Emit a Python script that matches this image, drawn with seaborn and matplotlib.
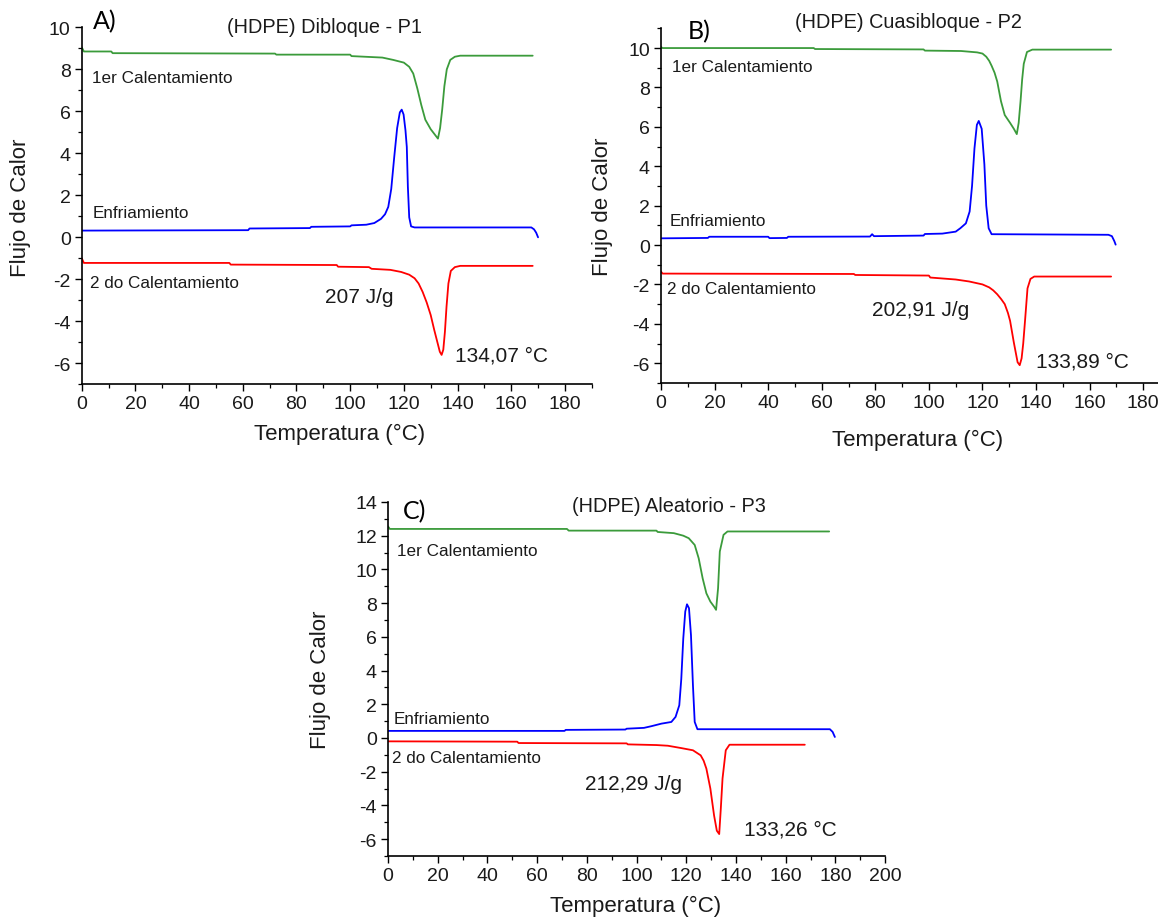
import numpy as np
import pandas as pd
import seaborn as sns
import matplotlib
matplotlib.use("Agg")
import matplotlib.pyplot as plt
from matplotlib.ticker import MultipleLocator

# ---------------- DSC thermograms: heat flow vs temperature ----------------
# Panel A: (HDPE) Dibloque - P1
a_heat1_t = [0, 0.8, 11, 11.5, 72, 72.5, 100, 100.5, 112, 116, 120, 122, 123.5, 125, 126.5,
             128, 130, 131.5, 132.7, 133.5, 134.3, 135.1, 136, 137.3, 139, 141, 168]
a_heat1_q = [9.05, 8.85, 8.85, 8.77, 8.75, 8.7, 8.7, 8.63, 8.56, 8.45, 8.32, 8.12, 7.8, 7.1, 6.3,
             5.6, 5.15, 4.9, 4.7, 5.2, 6.1, 7.2, 8.0, 8.45, 8.6, 8.65, 8.65]
a_cool_t = [0, 62, 62.5, 85, 85.5, 100, 100.5, 106, 109, 111.5, 113, 114.2, 115.3, 116.4, 117.5,
            118.5, 119.2, 119.9, 120.6, 121.1, 121.5, 122, 122.7, 124, 167.5, 168.5, 169.3, 170]
a_cool_q = [0.32, 0.34, 0.42, 0.44, 0.5, 0.52, 0.57, 0.6, 0.68, 0.88, 1.1, 1.45, 2.3, 3.8, 5.2,
            5.95, 6.08, 5.85, 5.1, 4.3, 2.4, 0.95, 0.52, 0.47, 0.47, 0.38, 0.22, 0.0]
a_heat2_t = [0, 0.8, 55, 55.5, 95, 95.5, 107, 108, 115, 119, 122, 124, 125.5, 127, 128.5, 130,
             131.3, 132.5, 133.4, 134.07, 134.7, 135.3, 135.9, 136.6, 137.5, 139, 141, 168]
a_heat2_q = [-1.0, -1.22, -1.22, -1.3, -1.32, -1.4, -1.42, -1.5, -1.55, -1.65, -1.78, -1.95, -2.2,
             -2.6, -3.1, -3.7, -4.4, -5.0, -5.45, -5.6, -5.35, -4.5, -3.3, -2.2, -1.6, -1.42,
             -1.36, -1.36]

# Panel B: (HDPE) Cuasibloque - P2
b_heat1_t = [0, 0.6, 57, 57.5, 98, 98.5, 112, 118, 120, 121.4, 122.5, 123.4, 124.5, 125.5, 126.9,
             128.3, 130.3, 131.7, 132.8, 133.5, 134.2, 134.8, 135.4, 136.6, 138.6, 168]
b_heat1_q = [10.05, 10.0, 10.0, 9.95, 9.93, 9.87, 9.85, 9.78, 9.72, 9.56, 9.35, 9.1, 8.75, 8.3,
             7.3, 6.6, 6.2, 5.9, 5.63, 6.2, 7.3, 8.4, 9.2, 9.8, 9.92, 9.92]
b_cool_t = [0, 17.5, 18, 40, 40.5, 47, 47.5, 78, 78.8, 79.5, 98, 98.5, 105, 110, 111.7, 113.8,
            115.2, 116.1, 117, 117.9, 118.6, 119.7, 120.7, 121.4, 122.3, 123.4, 167, 168.3,
            169.2, 169.7]
b_cool_q = [0.34, 0.36, 0.42, 0.42, 0.35, 0.36, 0.42, 0.43, 0.55, 0.45, 0.48, 0.56, 0.58, 0.68,
            0.85, 1.1, 1.7, 3.0, 4.9, 6.1, 6.3, 5.9, 4.1, 2.0, 0.85, 0.55, 0.52, 0.45, 0.2, 0.02]
b_heat2_t = [0, 0.6, 72, 72.5, 100, 100.5, 110, 115, 120, 122.5, 124, 125.5, 127, 128.3, 129.5,
             130.3, 131.7, 133.1, 133.89, 134.6, 135.2, 135.9, 136.8, 137.9, 139.3, 168]
b_heat2_q = [-1.35, -1.45, -1.47, -1.52, -1.55, -1.65, -1.75, -1.85, -2.0, -2.15, -2.3, -2.5,
             -2.75, -3.0, -3.45, -3.85, -4.95, -5.95, -6.1, -5.75, -5.0, -3.8, -2.2, -1.72,
             -1.6, -1.6]

# Panel C: (HDPE) Aleatorio - P3
c_heat1_t = [0, 0.7, 72, 72.7, 108, 108.5, 115, 118.8, 121, 123.4, 125, 126.6, 128.1, 129.7,
             131.2, 132, 132.8, 133.5, 135, 136.6, 177.5]
c_heat1_q = [12.55, 12.4, 12.4, 12.3, 12.3, 12.22, 12.15, 12.0, 11.85, 11.45, 10.66, 9.47, 8.58,
             8.09, 7.79, 7.6, 8.88, 11.06, 12.05, 12.25, 12.25]
c_cool_t = [0, 71, 71.5, 95.5, 96, 103, 106, 110, 114, 115.7, 117.2, 118, 118.8, 119.6, 120.3,
            121.1, 121.9, 122.7, 123.4, 124.5, 177.8, 178.9, 179.8]
c_cool_q = [0.42, 0.42, 0.48, 0.5, 0.55, 0.6, 0.7, 0.85, 0.95, 1.25, 1.94, 3.5, 5.9, 7.5, 7.93,
            7.7, 6.1, 3.1, 0.95, 0.52, 0.52, 0.36, 0.06]
c_heat2_t = [0, 52, 52.5, 96, 96.5, 108, 112.6, 118, 122.7, 125.8, 127, 128.1, 129.7, 131.2,
             132.3, 133.26, 133.9, 134.6, 135.9, 137.4, 167.7]
c_heat2_q = [-0.2, -0.22, -0.3, -0.32, -0.38, -0.42, -0.46, -0.6, -0.73, -1.03, -1.35, -1.82,
             -3.0, -4.6, -5.5, -5.7, -4.2, -2.4, -0.73, -0.4, -0.4]

panel_titles = ["(HDPE) Dibloque - P1", "(HDPE) Cuasibloque - P2", "(HDPE) Aleatorio - P3"]
panel_tags = ["A)", "B)", "C)"]
enthalpy_labels = ["207 J/g", "202,91 J/g", "212,29 J/g"]
peak_labels = ["134,07 °C", "133,89 °C", "133,26 °C"]
curve_names = ["1er Calentamiento", "Enfriamiento", "2 do Calentamiento"]
x_label = "Temperatura (°C)"
y_label = "Flujo de Calor"

sns.set_style("ticks")
plt.rcParams["font.family"] = ["Liberation Sans", "DejaVu Sans"]
plt.rcParams["axes.unicode_minus"] = False

COLORS = ["#3b9b3b", "#0000ff", "#ff0000"]
TEXT = "#1a1a1a"

fig = plt.figure(figsize=(11.58, 9.2), dpi=100)

panels = [
    dict(rect=[0.0706, 0.5812, 0.4404, 0.3880], xlim=(0, 190), ylim=(-7, 10),
         xticks=np.arange(0, 181, 20), yticks=np.arange(-6, 11, 2),
         curves=[(a_heat1_t, a_heat1_q), (a_cool_t, a_cool_q), (a_heat2_t, a_heat2_q)],
         name_pos=[(3.8, 7.62), (4.2, 1.19), (3.1, -2.14)],
         title_pos=(90.4, 10.05), tag_pos=(4.2, 10.3),
         enth_pos=(103.4, -2.81), peak_pos=(139.1, -5.62),
         ylab=(-0.121, 0.497), xlab=(0.506, -0.137)),
    dict(rect=[0.5708, 0.5827, 0.4396, 0.3854], xlim=(0, 190), ylim=(-7, 11),
         xticks=np.arange(0, 181, 20), yticks=np.arange(-6, 11, 2),
         curves=[(b_heat1_t, b_heat1_q), (b_cool_t, b_cool_q), (b_heat2_t, b_heat2_q)],
         name_pos=[(4.1, 9.04), (3.4, 1.22), (2.2, -2.23)],
         title_pos=(92.5, 11.37), tag_pos=(10.0, 10.86),
         enth_pos=(97.0, -3.25), peak_pos=(140.0, -5.9),
         ylab=(-0.114, 0.5), xlab=(0.505, -0.158)),
    dict(rect=[0.3351, 0.0685, 0.4292, 0.3848], xlim=(0, 200), ylim=(-7, 14),
         xticks=np.arange(0, 201, 20), yticks=np.arange(-6, 15, 2),
         curves=[(c_heat1_t, c_heat1_q), (c_cool_t, c_cool_q), (c_heat2_t, c_heat2_q)],
         name_pos=[(3.6, 11.15), (2.4, 1.15), (1.6, -1.17)],
         title_pos=(113.0, 13.8), tag_pos=(6.0, 13.5),
         enth_pos=(98.8, -2.72), peak_pos=(143.4, -5.4),
         ylab=(-0.135, 0.5), xlab=(0.499, -0.141)),
]

for i, p in enumerate(panels):
    ax = fig.add_axes(p["rect"])
    for (t, q), color in zip(p["curves"], COLORS):
        df = pd.DataFrame({"T": t, "Q": q})
        sns.lineplot(data=df, x="T", y="Q", ax=ax, color=color, linewidth=1.3,
                     sort=False, estimator=None)
    ax.set_xlim(*p["xlim"])
    ax.set_ylim(*p["ylim"])
    ax.set_xticks(p["xticks"])
    ax.set_yticks(p["yticks"])
    ax.xaxis.set_minor_locator(MultipleLocator(10))
    ax.yaxis.set_minor_locator(MultipleLocator(1))
    sns.despine(ax=ax)
    for s in ("left", "bottom"):
        ax.spines[s].set_linewidth(1.2)
        ax.spines[s].set_color("black")
    ax.tick_params(which="major", direction="out", length=5, width=1.0,
                   labelsize=14, pad=3, labelcolor=TEXT, color="black")
    ax.tick_params(which="minor", direction="out", length=3, width=0.9, color="black")

    ax.set_xlabel(x_label, fontsize=16, color=TEXT, va="center")
    ax.set_ylabel(y_label, fontsize=16, color=TEXT, va="center")
    ax.xaxis.set_label_coords(*p["xlab"])
    ax.yaxis.set_label_coords(*p["ylab"])

    for name, (x, y) in zip(curve_names, p["name_pos"]):
        ax.text(x, y, name, fontsize=12.3, color=TEXT, ha="left", va="center")
    ax.text(*p["title_pos"], panel_titles[i], fontsize=14.3, color=TEXT,
            ha="center", va="center", clip_on=False)
    ax.text(*p["tag_pos"], panel_tags[i], fontsize=18, color="black",
            ha="left", va="center", family=["Lato", "DejaVu Sans"], clip_on=False)
    ax.text(*p["enth_pos"], enthalpy_labels[i], fontsize=15, color=TEXT,
            ha="center", va="center")
    ax.text(*p["peak_pos"], peak_labels[i], fontsize=15, color=TEXT,
            ha="left", va="center")
    ax.set_facecolor("white")

fig.savefig("out.png", dpi=100, facecolor="white")
